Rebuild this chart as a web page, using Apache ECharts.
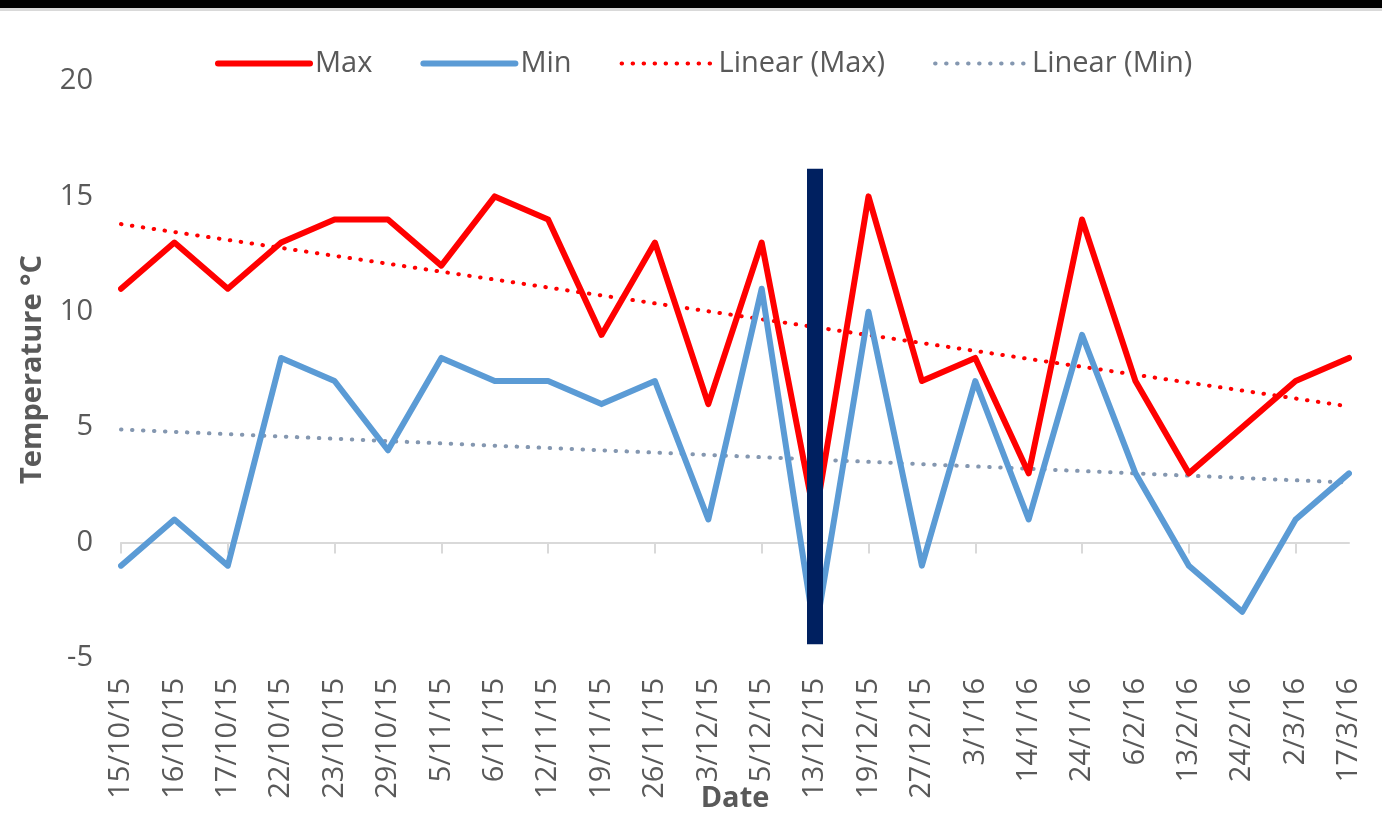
<!DOCTYPE html>
<html>
<head>
<meta charset="utf-8">
<title>Temperature</title>
<script src="https://cdn.jsdelivr.net/npm/echarts@6/dist/echarts.min.js"></script>
<style>
  html, body { margin: 0; padding: 0; background: #ffffff; }
  #chart { width: 1382px; height: 819px; }
</style>
</head>
<body>
<div id="chart"></div>
<script>
// dates on the category axis
var dates = ['15/10/15', '16/10/15', '17/10/15', '22/10/15', '23/10/15', '29/10/15',
  '5/11/15', '6/11/15', '12/11/15', '19/11/15', '26/11/15', '3/12/15', '5/12/15',
  '13/12/15', '19/12/15', '27/12/15', '3/1/16', '14/1/16', '24/1/16', '6/2/16',
  '13/2/16', '24/2/16', '2/3/16', '17/3/16'];

var maxTemp = [11, 13, 11, 13, 14, 14, 12, 15, 14, 9, 13, 6, 13, 1, 15, 7, 8, 3, 14, 7, 3, 5, 7, 8];
var minTemp = [-1, 1, -1, 8, 7, 4, 8, 7, 7, 6, 7, 1, 11, -4, 10, -1, 7, 1, 9, 3, -1, -3, 1, 3];

// trendline ends (first date, last date)
var maxTrendEnds = [13.8, 5.9];
var minTrendEnds = [4.9, 2.6];

// the dark marker bar
var markerDate = '13/12/15';
var markerRange = [16.2, -4.4];

var yTicks = [-5, 0, 5, 10, 15, 20];

var font = 'Open Sans';
var grey = '#595959';
var fs = 29;

// trend series: values only at the two ends, line joins them
function trend(ends) {
  var d = dates.map(function () { return null; });
  d[0] = ends[0];
  d[d.length - 1] = ends[1];
  return d;
}

var chart = echarts.init(document.getElementById('chart'));

var dots = [0.5, 10.5];

var option = {
  backgroundColor: '#ffffff',
  animation: false,
  textStyle: { fontFamily: font },
  graphic: [
    { type: 'rect', left: 0, top: 0, shape: { width: 1382, height: 8 }, style: { fill: '#000000' } },
    { type: 'rect', left: 0, top: 8, shape: { width: 1382, height: 3 }, style: { fill: '#d9d9d9' } }
  ],
  legend: {
    left: 210,
    top: 44,
    itemWidth: 92,
    itemHeight: 20,
    itemGap: 48,
    itemStyle: { opacity: 0 },
    textStyle: { fontFamily: font, fontSize: fs, color: grey },
    data: [
      { name: 'Max', lineStyle: { width: 6, cap: 'round' } },
      { name: 'Min', lineStyle: { width: 6, cap: 'round' } },
      { name: 'Linear (Max)', lineStyle: { width: 4, type: dots, cap: 'round' } },
      { name: 'Linear (Min)', lineStyle: { width: 4, type: dots, cap: 'round' } }
    ]
  },
  grid: { left: 121, right: 33, top: 81, bottom: 161, outerBoundsMode: 'none' },
  xAxis: [{
    type: 'category',
    data: dates,
    boundaryGap: false,
    axisLine: { onZero: true, lineStyle: { color: '#d9d9d9', width: 2 } },
    axisTick: { show: true, length: 11, lineStyle: { color: '#d9d9d9', width: 2 } },
    axisLabel: { show: false },
    splitLine: { show: false }
  }, {
    type: 'category',
    data: dates,
    boundaryGap: false,
    position: 'bottom',
    axisLine: { show: false, onZero: false },
    axisTick: { show: false },
    axisLabel: {
      rotate: 90,
      margin: 20,
      interval: 0,
      fontFamily: font,
      fontSize: fs,
      color: grey
    },
    name: 'Date',
    nameLocation: 'middle',
    nameGap: 126,
    nameMoveOverlap: false,
    nameTextStyle: { fontFamily: font, fontSize: fs, fontWeight: 'bold', color: grey }
  }],
  yAxis: {
    type: 'value',
    min: yTicks[0],
    max: yTicks[yTicks.length - 1],
    interval: 5,
    axisLine: { show: false },
    axisTick: { show: false },
    splitLine: { show: false },
    axisLabel: { margin: 28, fontFamily: font, fontSize: fs, color: grey },
    name: 'Temperature °C',
    nameLocation: 'middle',
    nameGap: 74,
    nameMoveOverlap: false,
    nameTextStyle: { fontFamily: font, fontSize: fs, fontWeight: 'bold', color: grey }
  },
  series: [{
    name: 'Max',
    type: 'line',
    data: maxTemp,
    symbol: 'none',
    color: '#ff0000',
    lineStyle: { width: 6, color: '#ff0000', join: 'round', cap: 'round' },
    z: 3
  }, {
    name: 'Min',
    type: 'line',
    data: minTemp,
    symbol: 'none',
    color: '#5b9bd5',
    lineStyle: { width: 6, color: '#5b9bd5', join: 'round', cap: 'round' },
    z: 3
  }, {
    name: 'Linear (Max)',
    type: 'line',
    data: trend(maxTrendEnds),
    connectNulls: true,
    symbol: 'none',
    color: '#ff0000',
    lineStyle: { width: 4, color: '#ff0000', type: dots, cap: 'round' },
    z: 2
  }, {
    name: 'Linear (Min)',
    type: 'line',
    data: trend(minTrendEnds),
    connectNulls: true,
    symbol: 'none',
    color: '#8497b0',
    lineStyle: { width: 4, color: '#8497b0', type: dots, cap: 'round' },
    z: 2,
    markLine: {
      silent: true,
      symbol: 'none',
      label: { show: false },
      lineStyle: { color: '#002060', width: 16, type: 'solid', cap: 'butt' },
      data: [[
        { coord: [markerDate, markerRange[0]] },
        { coord: [markerDate, markerRange[1]] }
      ]],
      z: 5
    }
  }]
};

chart.setOption(option);
</script>
</body>
</html>
